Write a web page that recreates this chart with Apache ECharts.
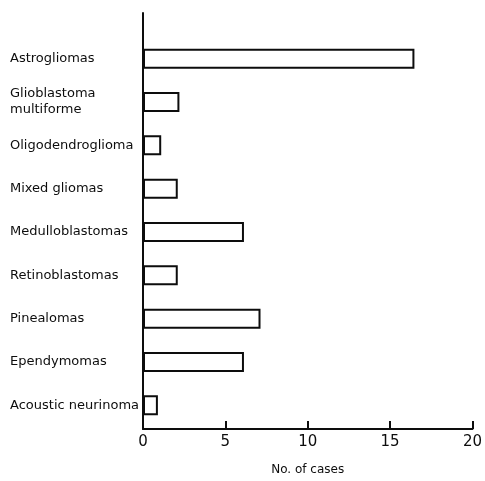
<!DOCTYPE html>
<html>
<head>
<meta charset="utf-8">
<script src="https://cdn.jsdelivr.net/npm/echarts@6/dist/echarts.min.js"></script>
<style>
html,body{margin:0;padding:0;background:#fff;}
#chart{width:485px;height:481px;}
</style>
</head>
<body>
<div id="chart"></div>
<script>
var categories = ['Astrogliomas', 'Glioblastoma\nmultiforme', 'Oligodendroglioma', 'Mixed gliomas', 'Medulloblastomas', 'Retinoblastomas', 'Pinealomas', 'Ependymomas', 'Acoustic neurinoma'];
var cases = [16.4, 2.2, 1.1, 2.1, 6.1, 2.1, 7.1, 6.1, 0.9];
var xMin = 0, xMax = 20, xStep = 5;
var xTitle = 'No. of cases';

var ink = '#0d0d0d';
var chart = echarts.init(document.getElementById('chart'), null, {renderer: 'canvas'});
chart.setOption({
  backgroundColor: '#ffffff',
  animation: false,
  grid: [
    {left: 143, right: 11, top: 13, bottom: 44},
    {left: 143, right: 11, top: 37, bottom: 54}
  ],
  xAxis: [
    {
      gridIndex: 0, type: 'value', min: xMin, max: xMax, interval: xStep,
      name: xTitle, nameLocation: 'middle', nameGap: 35,
      nameTextStyle: {fontFamily: 'DejaVu Sans', fontSize: 12, color: ink},
      axisLine: {show: true, lineStyle: {color: ink, width: 2}},
      axisTick: {show: true, inside: true, length: 8, lineStyle: {color: ink, width: 2}},
      axisLabel: {fontFamily: 'DejaVu Sans', fontSize: 15, color: ink, margin: 6},
      splitLine: {show: false}
    },
    {
      gridIndex: 1, type: 'value', min: xMin, max: xMax, show: false
    }
  ],
  yAxis: [
    {
      gridIndex: 0, type: 'value', min: 0, max: 1,
      axisLine: {show: true, lineStyle: {color: ink, width: 2}},
      axisTick: {show: false}, axisLabel: {show: false}, splitLine: {show: false}
    },
    {
      gridIndex: 1, type: 'category', data: categories, inverse: true,
      axisLine: {show: false}, axisTick: {show: false}, splitLine: {show: false},
      axisLabel: {
        fontFamily: 'DejaVu Sans', fontSize: 13, color: ink,
        align: 'left', margin: 133, lineHeight: 16, interval: 0
      }
    }
  ],
  series: [{
    type: 'bar',
    xAxisIndex: 1, yAxisIndex: 1,
    data: cases,
    barWidth: 20,
    itemStyle: {color: '#ffffff', borderColor: ink, borderWidth: 2}
  }]
});
</script>
</body>
</html>
